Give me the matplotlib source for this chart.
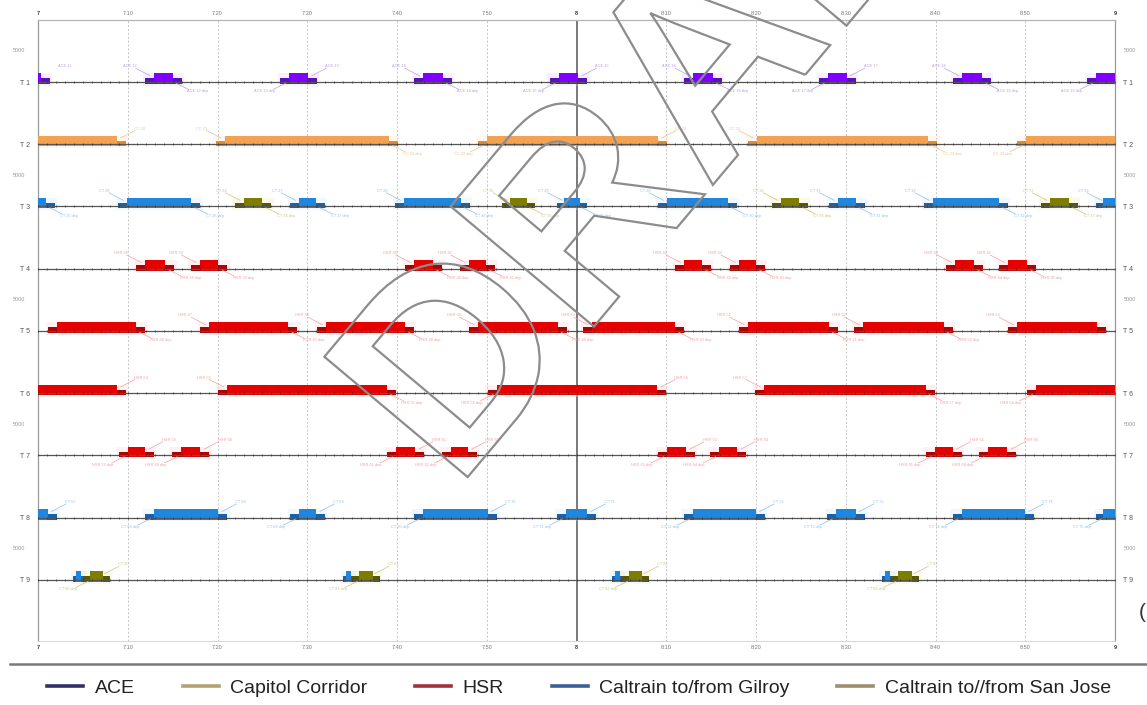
import matplotlib
matplotlib.use("Agg")
import matplotlib.pyplot as plt
from matplotlib.lines import Line2D
from matplotlib.textpath import TextPath
from matplotlib.patches import PathPatch
from matplotlib.font_manager import FontProperties
from matplotlib.transforms import Affine2D, blended_transform_factory

plt.rcParams['font.family'] = ['Liberation Sans', 'DejaVu Sans']

# tracks (top to bottom) and time axis (minutes from 7:00)
tracks = ["T 1", "T 2", "T 3", "T 4", "T 5", "T 6", "T 7", "T 8", "T 9"]
time_ticks = [0, 10, 20, 30, 40, 50, 60, 70, 80, 90, 100, 110, 120]
time_labels = ["7", "7:10", "7:20", "7:30", "7:40", "7:50", "8",
               "8:10", "8:20", "8:30", "8:40", "8:50", "9"]
zone_rows = [0.5, 2.5, 4.5, 6.5, 8.5]
zone_label = "5000"

# occupancy intervals (start, end) in minutes, per track and service
ace_t1 = [(-2.8, 1.3), (11.9, 16.0), (27.0, 31.1), (41.9, 46.1), (57.0, 61.2),
          (72.0, 76.2), (87.0, 91.1), (102.0, 106.2), (116.9, 121.0)]
cc_t2 = [(-10.0, 9.8), (19.8, 40.1), (49.0, 70.1), (79.1, 100.2), (109.1, 130.0)]
gilroy_t3 = [(-2.0, 1.9), (8.9, 18.1), (28.1, 32.0), (39.8, 48.1), (57.8, 61.2),
             (69.1, 77.9), (88.1, 92.1), (98.7, 108.1), (117.9, 121.1)]
sj_t3 = [(21.9, 26.0), (51.7, 55.4), (81.8, 85.8), (111.8, 115.9)]
hsr_t4 = [(10.9, 15.2), (17.0, 21.1), (40.9, 45.0), (47.0, 50.9),
          (71.0, 75.0), (77.1, 81.0), (101.2, 105.3), (107.1, 111.2)]
hsr_t5 = [(1.1, 11.9), (18.1, 28.9), (31.1, 41.9), (48.0, 58.9),
          (60.7, 72.0), (78.1, 89.1), (90.9, 101.9), (108.1, 119.0)]
hsr_t6 = [(-12.0, 9.8), (20.1, 39.9), (50.1, 70.0), (79.9, 99.9), (110.2, 130.0)]
hsr_t7 = [(9.0, 12.9), (14.9, 19.1), (38.9, 43.0), (45.0, 48.9),
          (69.1, 73.2), (74.9, 78.9), (98.9, 102.9), (104.8, 109.0)]
gilroy_t8 = [(-2.0, 2.1), (11.9, 21.1), (28.1, 32.0), (41.9, 51.1), (57.8, 62.2),
             (72.0, 81.0), (87.9, 92.1), (101.9, 111.0), (117.9, 121.1)]
gilroy_t9 = [(3.9, 5.1), (34.0, 35.2), (64.0, 65.2), (94.0, 95.3)]
sj_t9 = [(5.0, 8.0), (35.0, 38.1), (65.1, 68.1), (95.0, 98.2)]

legend_names = ["ACE", "Capitol Corridor", "HSR", "Caltrain to/from Gilroy",
                "Caltrain to//from San Jose"]

# service styles: bar, shoulder, halo, label, legend colour, label prefix
styles = {
    "ACE": ("#7f00ff", "#5a10c0", "#e4d0ff", "#b8a0e0", "#34306a", "ACE"),
    "CC": ("#f2a251", "#e08a35", "#ffe3c4", "#eec090", "#b3a373", "CC"),
    "HSR": ("#e60000", "#b00000", "#ffd2d2", "#f4a0a0", "#a3303d", "HSR"),
    "GIL": ("#1f86e0", "#1462b0", "#cfe6ff", "#90c0ec", "#3d5f98", "CT"),
    "SJ": ("#7d7d00", "#585800", "#ecebb8", "#c8c880", "#9c8e6e", "CT"),
}

# which side the little train labels sit on: ur = upper right / lower left
label_side = {1: "alt", 2: "alt", 3: "ul", 4: "ul", 5: "ul", 6: "alt",
              7: "ur", 8: "ur", 9: "ur"}

occupancy = [
    (1, "ACE", ace_t1), (2, "CC", cc_t2), (3, "GIL", gilroy_t3), (3, "SJ", sj_t3),
    (4, "HSR", hsr_t4), (5, "HSR", hsr_t5), (6, "HSR", hsr_t6), (7, "HSR", hsr_t7),
    (8, "GIL", gilroy_t8), (9, "GIL", gilroy_t9), (9, "SJ", sj_t9),
]

fig = plt.figure(figsize=(11.47, 7.05), dpi=100)
ax = fig.add_axes([38 / 1147, 1 - 641 / 705, 1077 / 1147, 621 / 705])
ax.set_xlim(0, 120)
ax.set_ylim(9.98, 0.004)

# grid
for t in time_ticks:
    if t == 60:
        ax.axvline(t, color="#555555", lw=1.1, zorder=1)
    elif 0 < t < 120:
        ax.axvline(t, color="#c4c4c4", lw=0.7, ls=(0, (2, 2)), zorder=1)

# track lines with minute marks
minutes = list(range(0, 121))
for i, name in enumerate(tracks):
    y = i + 1
    ax.axhline(y, color="#555555", lw=0.9, zorder=4)
    ax.plot(minutes, [y] * len(minutes), ls="none", marker="|", ms=1.8,
            mew=0.5, color="#333333", zorder=4)


def label(x, y, txt, color, ha, va):
    if 1.5 < x < 118.5:
        ax.text(x, y, txt, fontsize=2.8, color=color, ha=ha, va=va, zorder=5)


# occupancy bars
k = 0
for y, svc, spans in occupancy:
    bar_c, thin_c, halo_c, lab_c, _, prefix = styles[svc]
    for j, (a, b) in enumerate(spans):
        k += 1
        inset = min(1.0, 0.25 * (b - a))
        ax.barh(y - 0.04, b - a + 0.5, left=a - 0.25, height=0.2, color=halo_c,
                alpha=0.3, lw=0, zorder=2)
        ax.barh(y - 0.015, b - a, left=a, height=0.09, color=thin_c, lw=0, zorder=3)
        ax.barh(y - 0.055, b - a - 2 * inset, left=a + inset, height=0.17,
                color=bar_c, lw=0, zorder=3)
        if b - a < 1.5:
            continue
        up = "%s %02d" % (prefix, 10 + k)
        dn = "%s %02d dep" % (prefix, 10 + k)
        side = label_side[y]
        if side == "alt":
            side = "ur" if j % 2 == 0 else "ul"
        if side == "ur":
            if 1.5 < b < 118.5:
                ax.plot([b - 0.6, b + 1.0], [y - 0.10, y - 0.22], color=lab_c, lw=0.5, zorder=5)
            label(b + 0.9, y - 0.22, up, lab_c, "left", "bottom")
            if 1.5 < a < 118.5:
                ax.plot([a + 0.6, a - 0.8], [y + 0.02, y + 0.12], color=lab_c, lw=0.5, zorder=5)
            label(a - 0.6, y + 0.12, dn, lab_c, "right", "top")
        else:
            if 1.5 < a < 118.5:
                ax.plot([a + 0.6, a - 1.0], [y - 0.10, y - 0.22], color=lab_c, lw=0.5, zorder=5)
            label(a - 0.9, y - 0.22, up, lab_c, "right", "bottom")
            if 1.5 < b < 118.5:
                ax.plot([b - 0.6, b + 0.8], [y + 0.02, y + 0.12], color=lab_c, lw=0.5, zorder=5)
            label(b + 0.6, y + 0.12, dn, lab_c, "left", "top")

# axes styling
ax.set_yticks(range(1, len(tracks) + 1))
ax.set_yticklabels(tracks)
ax.set_xticks(time_ticks)
ax.set_xticklabels(time_labels)
ax.tick_params(axis="y", length=0, labelsize=5, labelcolor="#555555",
               labelright=True, pad=6)
ax.tick_params(axis="x", length=0, labelsize=4, labelcolor="#777777",
               top=True, labeltop=True, pad=3)
for tick, t in zip(ax.xaxis.get_major_ticks(), time_ticks):
    if t % 60 == 0:
        for lab in (tick.label1, tick.label2):
            lab.set_fontweight("bold")
            lab.set_color("#333333")
for side in ("left", "right"):
    ax.spines[side].set_color("#9a9a9a")
    ax.spines[side].set_linewidth(0.9)
ax.spines["top"].set_color("#b5b5b5")
ax.spines["top"].set_linewidth(0.9)
ax.spines["bottom"].set_color("#d0d0d0")
ax.spines["bottom"].set_linewidth(0.6)

tr = blended_transform_factory(ax.transAxes, ax.transData)
for r in zone_rows:
    ax.text(-0.012, r, zone_label, transform=tr, fontsize=4, color="#9a9a9a",
            ha="right", va="center")
    ax.text(1.008, r, zone_label, transform=tr, fontsize=4, color="#9a9a9a",
            ha="left", va="center")

# separator and legend
fig.add_artist(Line2D([10 / 1147, 1], [1 - 664 / 705] * 2, transform=fig.transFigure,
                      color="#7a7a7a", lw=1.8))
handles = [Line2D([], [], color=styles[s][4], lw=2.6)
           for s in ("ACE", "CC", "HSR", "GIL", "SJ")]
fig.legend(handles, legend_names, loc="center", bbox_to_anchor=(0.505, 0.024),
           ncol=5, frameon=False, fontsize=14, handlelength=1.85,
           handletextpad=0.6, columnspacing=2.45, labelcolor="#222222")
fig.text(1139 / 1147, 1 - 612 / 705, "(", fontsize=15, color="#333333",
         ha="left", va="center")

# DRAFT watermark outline
wm = fig.add_axes([0, 0, 1, 1], zorder=10)
wm.set_xlim(0, 1147)
wm.set_ylim(0, 705)
wm.axis("off")
tp = TextPath((0, 0), "DRAFT", size=272,
              prop=FontProperties(family="Liberation Sans", weight="bold"))
path = Affine2D().rotate_deg(50).translate(456, 214).transform_path(tp)
wm.add_patch(PathPatch(path, facecolor="none", edgecolor="#8c8c8c", lw=1.6))

fig.savefig("out.png", dpi=100)
